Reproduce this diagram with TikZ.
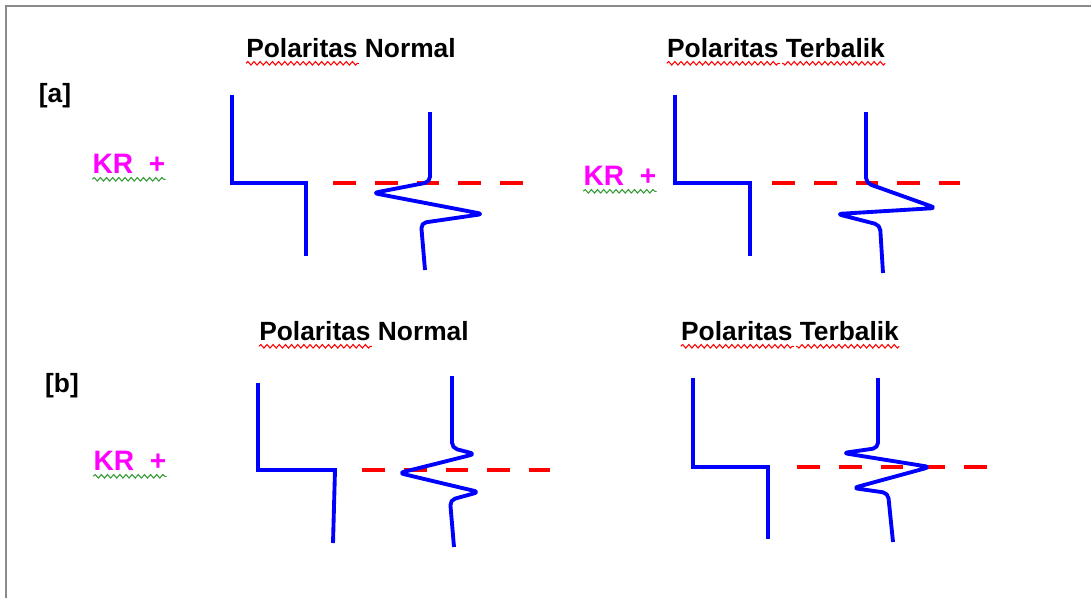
\documentclass[tikz,border=0pt]{standalone}
\usepackage{fontspec}
\setmainfont{Liberation Sans}
\usetikzlibrary{decorations.pathmorphing}
\definecolor{TraceBlue}{HTML}{0000FF}
\definecolor{HorizonRed}{HTML}{FF0000}
\definecolor{KRMagenta}{HTML}{FF00FF}
\definecolor{SpellGreen}{HTML}{339933}
\definecolor{FrameGray}{HTML}{8A8A8A}
\tikzset{
    % Text styles
    titletext/.style={
        inner sep=0pt,
        font=\fontsize{15}{18}\selectfont\bfseries
    },
    panellabel/.style={
        inner sep=0pt,
        font=\fontsize{15}{18}\selectfont\bfseries
    },
    krlabel/.style={
        inner sep=0pt,
        text=KRMagenta,
        font=\fontsize{16}{19}\selectfont\bfseries
    },
    % Line styles
    steptrace/.style={
        draw=TraceBlue,
        line width=2.2pt,
        line join=miter
    },
    wiggletrace/.style={
        draw=TraceBlue,
        line width=2.2pt,
        line join=round,
        rounded corners=3pt
    },
    horizon/.style={
        draw=HorizonRed,
        line width=2.2pt,
        dash pattern=on 13pt off 10.8pt
    },
    spellred/.style={
        draw=HorizonRed,
        line width=0.6pt,
        decorate,
        decoration={snake, segment length=3.5pt, amplitude=1pt}
    },
    spellgreen/.style={
        draw=SpellGreen,
        line width=0.6pt,
        decorate,
        decoration={snake, segment length=3.5pt, amplitude=1pt}
    }
}
\begin{document}
\begin{tikzpicture}[x=0.02cm, y=-0.02cm]
    \useasboundingbox[fill=white] (0,0) rectangle (1091,598);

    % Frame
    \draw[FrameGray, line width=1.2pt] (6,598) -- (6,6) -- (1091,6);

    % Titles
    \node[titletext] (titleAN) at (351,48) {Polaritas Normal};
    \node[titletext] (titleAR) at (776,48) {Polaritas Terbalik};
    \node[titletext] (titleBN) at (364,331) {Polaritas Normal};
    \node[titletext] (titleBR) at (790,331) {Polaritas Terbalik};
    \draw[spellred] ([yshift=-3pt]titleAN.south west) -- ++(113,0);
    \draw[spellred] ([yshift=-3pt]titleAR.south west) -- ++(113,0);
    \draw[spellred] ([yshift=-3pt]titleAR.south east) -- ++(-103,0);
    \draw[spellred] ([yshift=-3pt]titleBN.south west) -- ++(113,0);
    \draw[spellred] ([yshift=-3pt]titleBR.south west) -- ++(113,0);
    \draw[spellred] ([yshift=-3pt]titleBR.south east) -- ++(-103,0);

    % Panel labels
    \node[panellabel] (labA) at (55,96) {[a]};
    \node[panellabel] (labB) at (62,386) {[b]};

    % KR + labels
    \node[krlabel] (krAN) at (129,164) {KR\ \ +};
    \node[krlabel] (krAR) at (620,176) {KR\ \ +};
    \node[krlabel] (krBN) at (130,461) {KR\ \ +};
    \draw[spellgreen] ([yshift=-3pt]krAN.south west) -- ([yshift=-3pt]krAN.south east);
    \draw[spellgreen] ([yshift=-3pt]krAR.south west) -- ([yshift=-3pt]krAR.south east);
    \draw[spellgreen] ([yshift=-3pt]krBN.south west) -- ([yshift=-3pt]krBN.south east);

    % (a) normal polarity
    \draw[horizon] (333,183) -- (527,183);
    \draw[steptrace] (232,95) -- (232,183) -- (306,183) -- (306,256);
    \draw[wiggletrace] (430,112) -- (430,182) -- (373,193) -- (483,214) -- (421,223) -- (425,270);

    % (a) reversed polarity
    \draw[horizon] (772,183) -- (960,183);
    \draw[steptrace] (675,95) -- (675,183) -- (750,183) -- (750,256);
    \draw[wiggletrace] (866,112) -- (866,183) -- (936,208) -- (837,214) -- (880,225) -- (883,273);

    % (b) normal polarity
    \draw[horizon] (362,470) -- (550,470);
    \draw[steptrace] (258,383) -- (258,470) -- (335,470) -- (333,543);
    \draw[wiggletrace] (452,376) -- (452,448) -- (475,454) -- (399,473) -- (479,492) -- (450,500) -- (454,547);

    % (b) reversed polarity
    \draw[horizon] (797,467) -- (987,467);
    \draw[steptrace] (693,378) -- (693,467) -- (768,467) -- (768,539);
    \draw[wiggletrace] (878,378) -- (878,448) -- (843,453) -- (930,467) -- (853,488) -- (888,493) -- (893,542);
\end{tikzpicture}
\end{document}
